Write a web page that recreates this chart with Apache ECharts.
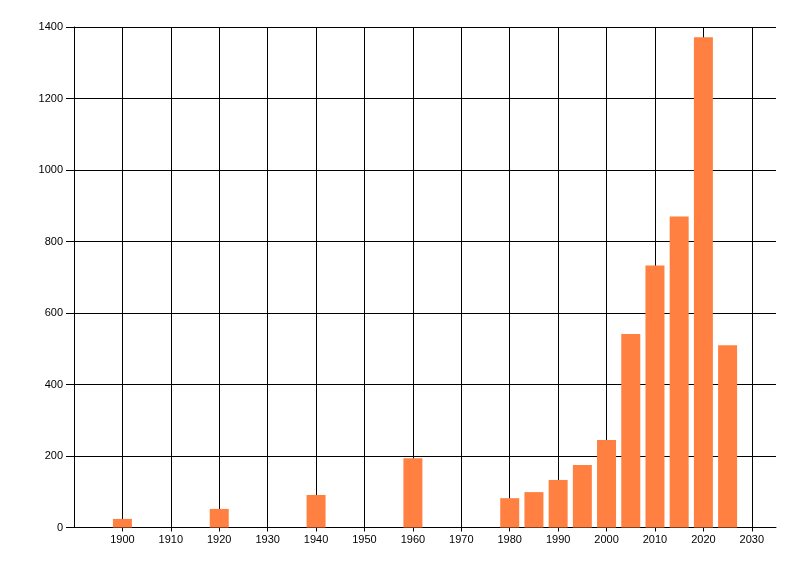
<!DOCTYPE html>
<html>
<head>
<meta charset="utf-8">
<script src="https://cdn.jsdelivr.net/npm/echarts@6/dist/echarts.min.js"></script>
<style>
html,body{margin:0;padding:0;background:#fff;}
#chart{width:800px;height:576px;}
</style>
</head>
<body>
<div id="chart"></div>
<script>
const years = [1900, 1920, 1940, 1960, 1980, 1985, 1990, 1995, 2000, 2005, 2010, 2015, 2020, 2025];
const counts = [24, 52, 91, 194, 82, 99, 133, 175, 245, 541, 733, 870, 1371, 510];
const xTicks = [1900, 1910, 1920, 1930, 1940, 1950, 1960, 1970, 1980, 1990, 2000, 2010, 2020, 2030];

const chart = echarts.init(document.getElementById('chart'), null, {renderer: 'canvas'});
const font = {fontFamily: 'Liberation Sans', fontSize: 11, color: '#000'};
chart.setOption({
  animation: false,
  backgroundColor: '#fff',
  grid: {left: 74, right: 24, top: 27, bottom: 48.5, containLabel: false},
  xAxis: {
    type: 'value',
    min: 1890,
    max: 2035,
    interval: 10,
    axisLine: {show: true, onZero: false, lineStyle: {color: '#000', width: 1}},
    axisTick: {show: true, length: 4, customValues: xTicks, lineStyle: {color: '#000'}},
    axisLabel: Object.assign({margin: 7, customValues: xTicks,
      formatter: v => String(v)}, font),
    splitLine: {show: true, lineStyle: {color: '#000', width: 1}}
  },
  yAxis: {
    type: 'value',
    min: 0,
    max: 1400,
    interval: 200,
    axisLine: {show: true, lineStyle: {color: '#000', width: 1}},
    axisTick: {show: true, length: 8, lineStyle: {color: '#000'}},
    axisLabel: Object.assign({margin: 11, formatter: v => String(v)}, font),
    splitLine: {show: true, lineStyle: {color: '#000', width: 1}}
  },
  series: [{
    type: 'bar',
    barWidth: 19,
    itemStyle: {color: '#FF8040'},
    data: years.map((y, i) => [y, counts[i]])
  }]
});
</script>
</body>
</html>
